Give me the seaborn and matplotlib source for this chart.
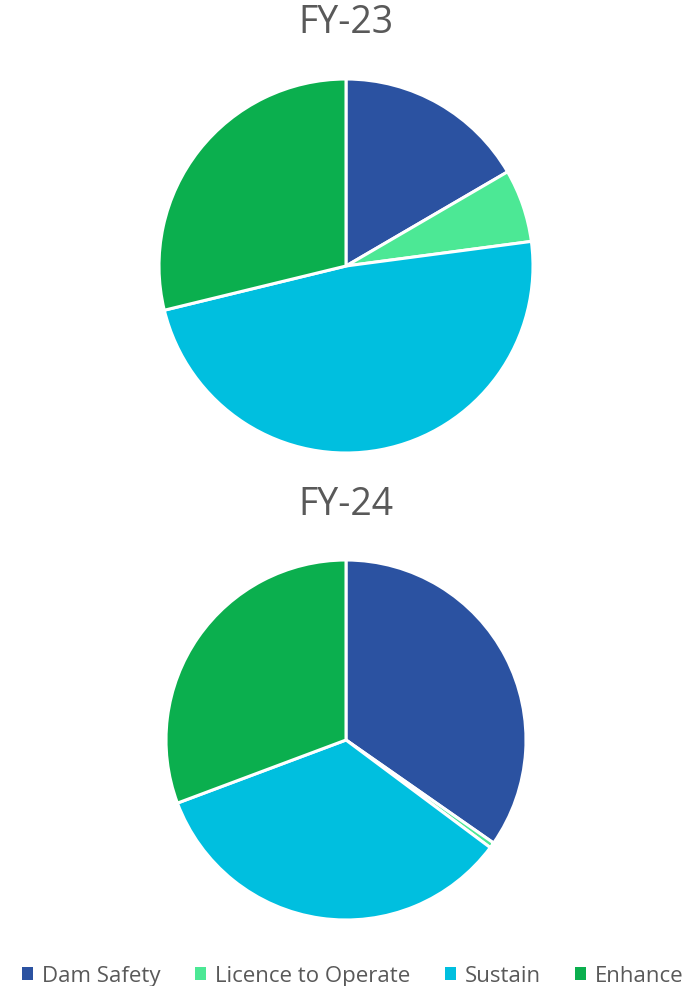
import matplotlib
matplotlib.use("Agg")
import matplotlib.pyplot as plt
import seaborn as sns
from matplotlib.patches import Patch

sns.set_theme(style="white")
plt.rcParams['font.family'] = ['Open Sans', 'DejaVu Sans']

categories = ["Dam Safety", "Licence to Operate", "Sustain", "Enhance"]
fy23 = [16.6, 6.3, 48.3, 28.8]
fy24 = [34.7, 0.5, 34.1, 30.7]
titles = ["FY-23", "FY-24"]
colors = ["#2B52A1", "#4CE895", "#00BFDF", "#0BAF4E"]

W, H = 687, 987
fig = plt.figure(figsize=(W / 100, H / 100), dpi=100)

def add_pie(cx, cy, r, values, title, ty):
    ax = fig.add_axes([(cx - r) / W, 1 - (cy + r) / H, 2 * r / W, 2 * r / H])
    ax.pie(values, colors=colors, startangle=90, counterclock=False,
           wedgeprops=dict(edgecolor="white", linewidth=2.2), radius=1)
    ax.set_xlim(-1, 1)
    ax.set_ylim(-1, 1)
    ax.set_aspect("equal")
    ax.axis("off")
    fig.text(cx / W, 1 - ty / H, title, ha="center", va="center",
             fontsize=27, color="#595959")

add_pie(346, 267, 187, fy23, titles[0], 23)
add_pie(346, 741, 180, fy24, titles[1], 505)

handles = [Patch(facecolor=c, edgecolor="none") for c in colors]
fig.legend(handles, categories, loc="center", bbox_to_anchor=(353 / W, 1 - 977 / H),
           ncol=4, frameon=False, fontsize=16, handlelength=0.5, handleheight=0.5,
           handletextpad=0.4, columnspacing=1.55, labelcolor="#595959",
           borderpad=0, borderaxespad=0)

fig.savefig("out.png", dpi=100, facecolor="white")
